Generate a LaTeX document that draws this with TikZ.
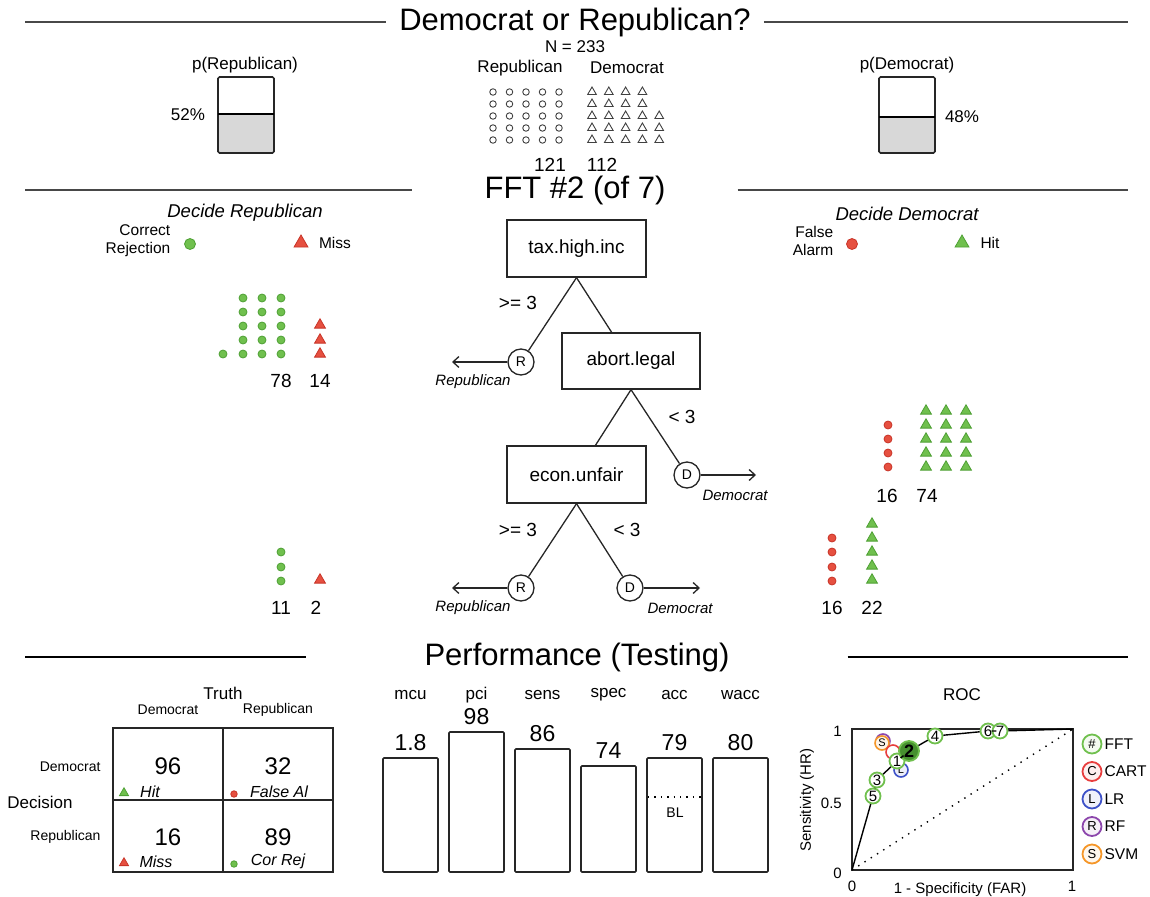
\documentclass[tikz,border=0pt]{standalone}
\usepackage{fontspec}
\setmainfont{Liberation Sans}
\usetikzlibrary{positioning,calc,shapes.geometric,arrows.meta}

\definecolor{hitgreen}{RGB}{112,192,78}
\definecolor{hitgreenD}{RGB}{78,160,52}
\definecolor{missred}{RGB}{230,80,64}
\definecolor{missredD}{RGB}{200,52,40}
\definecolor{rulegray}{RGB}{72,72,72}
\definecolor{boxgray}{RGB}{216,216,216}
\definecolor{cartred}{RGB}{232,62,62}
\definecolor{lrblue}{RGB}{62,82,200}
\definecolor{rfpurple}{RGB}{140,70,172}
\definecolor{svmorange}{RGB}{245,150,40}

\newcommand\fsz[1]{\fontsize{#1}{#1}\selectfont}

\tikzset{
  head/.style={font=\fsz{31}},
  txt/.style={font=\fsz{17}},
  small/.style={font=\fsz{14}},
  axis/.style={font=\fsz{15}},
  count/.style={font=\fsz{19}},
  cellnum/.style={font=\fsz{24}},
  cellcue/.style={font=\fsz{16}\itshape},
  barval/.style={font=\fsz{23}},
  decide/.style={font=\fsz{18.5}\itshape},
  leg/.style={font=\fontsize{15.5}{18}\selectfont, align=right},
  rule/.style={draw=rulegray, line width=2.5pt},
  frame/.style={draw=black!85, line width=1.6pt},
  edge/.style={draw=black!85, line width=1.3pt},
  cue/.style={draw=black!85, rectangle, line width=1.3pt, minimum width=139pt,
    minimum height=57pt, font=\fsz{19}},
  exit/.style={draw=black!85, circle, line width=1.3pt, minimum size=26pt,
    inner sep=0pt, font=\fsz{14}},
  branch/.style={font=\fsz{19}},
  exitlbl/.style={font=\fsz{15}\itshape},
  opendot/.style={circle, draw=black!75, line width=0.9pt, minimum size=6.5pt, inner sep=0pt},
  opentri/.style={regular polygon, regular polygon sides=3, draw=black!75,
    line width=0.9pt, minimum size=10pt, inner sep=0pt},
  gdot/.style={circle, fill=hitgreen, draw=hitgreenD, line width=0.8pt,
    minimum size=8pt, inner sep=0pt},
  rdot/.style={gdot, fill=missred, draw=missredD},
  gtri/.style={regular polygon, regular polygon sides=3, fill=hitgreen,
    draw=hitgreenD, line width=0.8pt, minimum size=12.5pt, inner sep=0pt},
  rtri/.style={gtri, fill=missred, draw=missredD},
  fftpt/.style={circle, draw=hitgreen, line width=1.8pt, fill=white,
    minimum size=15pt, inner sep=0pt, font=\fsz{15}},
  modpt/.style={circle, line width=1.6pt, fill=white, minimum size=14pt,
    inner sep=0pt, font=\fsz{11}},
  legpt/.style={circle, line width=1.8pt, minimum size=19pt, inner sep=0pt,
    font=\fsz{13}},
}

\begin{document}
\begin{tikzpicture}[x=1pt, y=-1pt, >={Straight Barb[length=6pt,width=11pt]}]
\useasboundingbox (0,0) rectangle (1150,896);

% section headers
\node[head, inner xsep=13pt] (title) at (575,22) {Democrat or Republican?};
\coordinate (title-l) at (25,22);
\coordinate (title-r) at (1128,22);
\draw[rule] (title-l) -- (title);
\draw[rule] (title) -- (title-r);

\node[head, inner xsep=72pt] (fft) at (575,190) {FFT \#2 (of 7)};
\coordinate (fft-l) at (25,190);
\coordinate (fft-r) at (1128,190);
\draw[rule] (fft-l) -- (fft);
\draw[rule] (fft) -- (fft-r);

\node[head, inner xsep=118pt] (perf) at (577,657) {Performance (Testing)};
\coordinate (perf-l) at (25,657);
\coordinate (perf-r) at (1128,657);
\draw[line width=1.6pt] (perf-l) -- (perf);
\draw[line width=1.6pt] (perf) -- (perf-r);

% data overview
\node[txt] (n-all) at (575,47) {N = 233};
\node[txt] (lab-rep) at (520,68) {Republican};
\node[txt] (lab-dem) at (627,68) {Democrat};

\foreach \r in {0,...,4}
  \foreach \c in {0,...,4}
    \node[opendot] (rep-\r-\c) at (493+16.5*\c, 92+12*\r) {};

\foreach \r/\n in {0/3,1/3,2/4,3/4,4/4}
  \foreach \c in {0,...,\n}
    \node[opentri] (dem-\r-\c) at (592+16.8*\c, 92+12*\r) {};

\node[count] (n-rep) at (550,165) {121};
\node[count] (n-dem) at (602,165) {112};

% base rates
\fill[boxgray] (218,114) rectangle (274,153);
\draw[frame, rounded corners=1.5pt] (218,77) rectangle (274,153);
\draw[line width=1.4pt] (218,114) -- (274,114);
\node[txt] (p-rep) at (245,65) {p(Republican)};
\node[txt] (p-rep-v) at (188,115) {52\%};

\fill[boxgray] (879,117) rectangle (935,153);
\draw[frame, rounded corners=1.5pt] (879,77) rectangle (935,153);
\draw[line width=1.4pt] (879,117) -- (935,117);
\node[txt] (p-dem) at (907,65) {p(Democrat)};
\node[txt] (p-dem-v) at (962,117) {48\%};

% decision legends
\node[decide] (dec-rep) at (245,213) {Decide Republican};
\node[leg] (cr-lab) at (138,241) {Correct\\Rejection};
\node[gdot, minimum size=11pt] (cr-key) at (190,244) {};
\node[rtri, minimum size=16pt] (miss-key) at (301,243) {};
\node[leg] (miss-lab) at (335,243) {Miss};

\node[decide] (dec-dem) at (907,214) {Decide Democrat};
\node[leg] (fa-lab) at (813,241) {False\\Alarm};
\node[rdot, minimum size=11pt] (fa-key) at (852,244) {};
\node[gtri, minimum size=16pt] (hit-key) at (962,243) {};
\node[leg] (hit-lab) at (990,243) {Hit};

% level 1 (Republican exit)
\foreach \r in {0,...,4}
  \foreach \x [count=\c] in {243,262,281}
    \node[gdot] (cr1-\r-\c) at (\x, 298+14*\r) {};
\node[gdot] (cr1-x) at (223,354) {};
\foreach \y [count=\i] in {325,340,354}
  \node[rtri] (mi1-\i) at (320,\y) {};
\node[count] (cr1-n) at (281,381) {78};
\node[count] (mi1-n) at (320,381) {14};

% level 2 (Democrat exit)
\foreach \y [count=\i] in {425,439,453,467}
  \node[rdot] (fa2-\i) at (888,\y) {};
\foreach \y [count=\r] in {411,425,439,453,467}
  \foreach \x [count=\c] in {926,946,966}
    \node[gtri] (hi2-\r-\c) at (\x,\y) {};
\node[count] (fa2-n) at (887,496) {16};
\node[count] (hi2-n) at (927,496) {74};

% level 3 (both exits)
\foreach \y [count=\i] in {552,567,581}
  \node[gdot] (cr3-\i) at (281,\y) {};
\node[rtri] (mi3-1) at (320,580) {};
\node[count] (cr3-n) at (281,608) {11};
\node[count] (mi3-n) at (316,608) {2};

\foreach \y [count=\i] in {538,552,567,581}
  \node[rdot] (fa3-\i) at (832,\y) {};
\foreach \y [count=\i] in {524,538,552,566,580}
  \node[gtri] (hi3-\i) at (872,\y) {};
\node[count] (fa3-n) at (832,608) {16};
\node[count] (hi3-n) at (872,608) {22};

% tree
\node[cue] (tax) at (576.5,248.5) {tax.high.inc};
\node[cue, minimum width=138pt, minimum height=56pt] (abort) at (631,361) {abort.legal};
\node[cue] (econ) at (576.5,474.5) {econ.unfair};

\node[exit] (exit-1) at (521,362) {R};
\node[exit] (exit-2) at (687,475) {D};
\node[exit] (exit-3) at (521,588) {R};
\node[exit] (exit-4) at (630,588) {D};

\coordinate (end-1) at (452,362);
\coordinate (end-2) at (756,475);
\coordinate (end-3) at (452,588);
\coordinate (end-4) at (700,588);

\draw[edge] (tax.south) -- (exit-1);
\draw[edge] (tax.south) -- (abort.124);
\draw[edge] (abort.south) -- (econ.57);
\draw[edge] (abort.south) -- (exit-2);
\draw[edge] (econ.south) -- (exit-3);
\draw[edge] (econ.south) -- (exit-4);

\foreach \i in {1,...,4}
  \draw[edge, ->] (exit-\i) -- (end-\i);

\node[branch] (br-1) at (518,303) {>= 3};
\node[branch] (br-2) at (682,417) {< 3};
\node[branch] (br-3) at (518,530) {>= 3};
\node[branch] (br-4) at (627,530) {< 3};

\node[exitlbl] (ex-lab-1) at (473,382) {Republican};
\node[exitlbl] (ex-lab-2) at (735,495) {Democrat};
\node[exitlbl] (ex-lab-3) at (473,608) {Republican};
\node[exitlbl] (ex-lab-4) at (680,608) {Democrat};

% confusion table
\draw[frame] (113,728) rectangle (333,872);
\draw[frame] (223,728) -- (223,872);
\draw[frame] (113,800) -- (333,800);
\node[txt] (truth) at (223,693) {Truth};
\node[small] (tr-dem) at (168,710) {Democrat};
\node[small] (tr-rep) at (278,710) {Republican};
\node[txt] (decision) at (40,802) {Decision};
\node[small, anchor=east] (dc-dem) at (104,767) {Democrat};
\node[small, anchor=east] (dc-rep) at (104,837) {Republican};

\node[cellnum] (c-hi) at (168,766) {96};
\node[cellnum] (c-fa) at (278,766) {32};
\node[cellnum] (c-mi) at (168,837) {16};
\node[cellnum] (c-cr) at (278,837) {89};

\node[gtri, minimum size=10.5pt] (k-hi) at (124,793) {};
\node[cellcue] (l-hi) at (150,792) {Hit};
\node[rdot, minimum size=6.5pt] (k-fa) at (234,794) {};
\node[cellcue] (l-fa) at (279,792) {False Al};
\node[rtri, minimum size=10.5pt] (k-mi) at (124,863) {};
\node[cellcue] (l-mi) at (156,862) {Miss};
\node[gdot, minimum size=6.5pt] (k-cr) at (234,864) {};
\node[cellcue] (l-cr) at (278,861) {Cor Rej};

% performance bars
\foreach \lbl/\val/\btop [count=\i] in {mcu/1.8/758, pci/98/732, sens/86/749,
    spec/74/766, acc/79/758, wacc/80/758}
{
  \pgfmathsetmacro\bx{383+66*(\i-1)}
  \draw[frame, rounded corners=1pt] (\bx,872) rectangle (\bx+55,\btop);
  \node[txt] (m-\lbl) at (\bx+27.5,695) {\lbl};
  \node[barval] (v-\lbl) at (\bx+27.5,\btop-15) {\val};
}
\draw[line width=1.3pt, dash pattern=on 1.4pt off 5pt] (648,797) -- (702,797);
\node[small] (bl) at (675,813) {BL};

% ROC
\node[txt] (roc) at (962,695) {ROC};
\coordinate (roc-0) at (852,870);
\coordinate (roc-1) at (1073,729);
\draw[frame] (852,729) rectangle (1073,870);
\draw[line width=1.4pt, dash pattern=on 1.4pt off 6pt] (roc-0) -- (roc-1);

\node[axis, anchor=east, inner sep=0pt] (ax-y1) at (842,731) {1};
\node[axis, anchor=east, inner sep=0pt] (ax-y5) at (842,803) {0.5};
\node[axis, anchor=east, inner sep=0pt] (ax-y0) at (842,873) {0};
\node[axis] (ax-x0) at (852,886) {0};
\node[axis] (ax-x1) at (1072,886) {1};
\node[axis, rotate=90] (ax-ylab) at (807,800) {Sensitivity (HR)};
\node[axis] (ax-xlab) at (960,890) {1 - Specificity (FAR)};

\node[modpt, draw=rfpurple, fill=rfpurple!15] (rf) at (883,741) {R};
\node[modpt, draw=svmorange, fill=svmorange!10] (svm) at (882,743) {S};
\node[modpt, draw=cartred] (cart) at (893,752) {};
\node[modpt, draw=lrblue, fill=lrblue!10] (lr) at (901,770) {L};

\foreach \k/\px/\py in {5/873/796, 3/877/780, 1/897/761, 4/935/736, 6/988/731, 7/1000/731}
  \node[fftpt] (fft-\k) at (\px,\py) {\k};
\node[fftpt, fill=hitgreenD!90!black, minimum size=20pt, font=\fsz{18}\bfseries]
  (fft-2) at (909,751) {2};

\draw[line width=1.4pt] (roc-0) -- (fft-5) -- (fft-3) -- (fft-1) -- (fft-2)
  -- (fft-4) -- (fft-6) -- (fft-7) -- (roc-1);

\foreach \ltr/\lbl/\col [count=\i] in {\#/FFT/hitgreen, C/CART/cartred,
    L/LR/lrblue, R/RF/rfpurple, S/SVM/svmorange}
{
  \pgfmathsetmacro\ky{744+27.5*(\i-1)}
  \node[legpt, draw=\col, fill=\col!8] (key-\i) at (1092,\ky) {\ltr};
  \node[leg, anchor=west, inner xsep=2pt] (key-lab-\i) at (key-\i.east) {\lbl};
}

\end{tikzpicture}
\end{document}
